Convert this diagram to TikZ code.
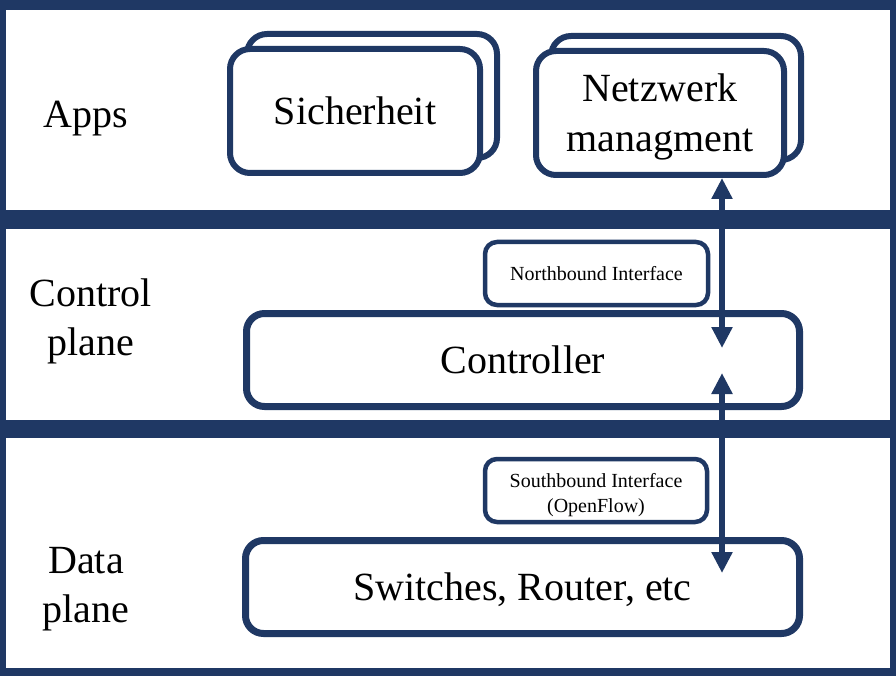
\documentclass[tikz,border=0pt]{standalone}
\usepackage{fontspec}
\setmainfont{Liberation Serif}
\usetikzlibrary{arrows.meta}
\definecolor{navy}{RGB}{31,56,100}
\begin{document}
\begin{tikzpicture}[x=1pt,y=-1pt,
  layer/.style={fill=white, draw=none, inner sep=0pt, outer sep=0pt},
  appbox/.style={draw=navy, line width=6pt, fill=white, rounded corners=20pt,
    minimum width=250pt, minimum height=124pt, inner sep=0pt, align=center,
    font=\fontsize{40}{50}\selectfont},
  mainbox/.style={draw=navy, line width=7pt, fill=white, rounded corners=18pt,
    minimum height=93pt, inner sep=0pt, text height=27pt, text depth=0pt,
    font=\fontsize{40}{50}\selectfont},
  ifbox/.style={draw=navy, line width=4.5pt, fill=white, rounded corners=12pt,
    minimum width=222pt, minimum height=63pt, inner sep=0pt, align=center,
    font=\fontsize{20}{25}\selectfont},
  lbl/.style={anchor=base, align=center, inner sep=0pt, font=\fontsize{40}{49}\selectfont},
  biarrow/.style={draw=navy, line width=6pt,
    {Triangle[length=21pt,width=20pt]}-{Triangle[length=21pt,width=20pt]}},
]
% background and layers
\fill[navy] (0,0) rectangle (896,676);
\node[layer, minimum width=884pt, minimum height=200pt] (apps) at (448,110) {};
\node[layer, minimum width=884pt, minimum height=191pt] (ctrlplane) at (448,324.5) {};
\node[layer, minimum width=884pt, minimum height=230pt] (dataplane) at (448,553) {};

% layer labels
\node[lbl] (appslbl) at (86,128) {Apps};
\node[lbl] (ctrllbl) at (90.5,355) {Control\\plane};
\node[lbl] (datalbl) at (86,622) {Data\\plane};

% apps
\node[appbox] (sichback) at (372,96) {};
\node[appbox, text height=27pt, text depth=0pt] (sich) at (355,111) {Sicherheit};
\node[appbox] (netzback) at (676,98) {};
\node[appbox, minimum width=248pt, text height=78pt, text depth=0pt] (netz) at (660,113) {Netzwerk\\managment};

% control plane
\node[ifbox, minimum width=223pt, text height=13.7pt, text depth=0pt] (nbi) at (596.5,273.5) {Northbound Interface};
\node[mainbox, minimum width=553pt] (ctrl) at (523,360) {Controller};

% data plane
\node[ifbox, text height=43pt, text depth=0pt] (sbi) at (596,490.5) {Southbound Interface\\(OpenFlow)};
\node[mainbox, minimum width=554pt] (sw) at (522.5,587) {Switches, Router, etc};

% arrows
\coordinate (n1) at (722,348);
\coordinate (s1) at (722,373);
\coordinate (s2) at (722,573);
\draw[biarrow] (netz.south -| n1) -- (n1);
\draw[biarrow] (s1) -- (s2);
\end{tikzpicture}
\end{document}
